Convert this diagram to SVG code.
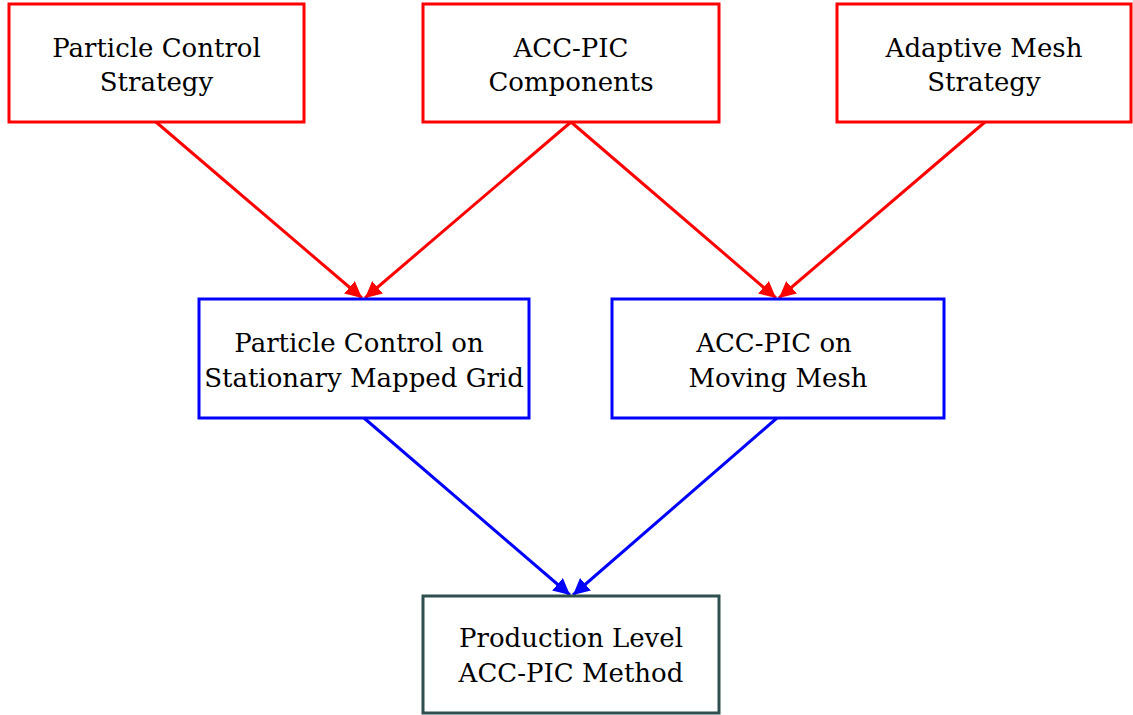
<svg xmlns="http://www.w3.org/2000/svg" width="1133" height="715" viewBox="0 0 1133 715">
<style>
rect{fill:#fff;stroke-width:3}
.r{stroke:#ff0000}.b{stroke:#0000ff}.g{stroke:#2f4f4f}
text{font-family:"DejaVu Serif","Liberation Serif",serif;font-size:26px;text-anchor:middle;fill:#000}
.c line{stroke-width:3}
</style>
<defs>
<marker id="ar" viewBox="0 0 10 10" refX="10" refY="5" markerWidth="5.5" markerHeight="5.5" orient="auto" markerUnits="strokeWidth"><path d="M0,0 L10,5 L0,10 z" fill="#ff0000"/></marker>
<marker id="ab" viewBox="0 0 10 10" refX="10" refY="5" markerWidth="5.5" markerHeight="5.5" orient="auto" markerUnits="strokeWidth"><path d="M0,0 L10,5 L0,10 z" fill="#0000ff"/></marker>
</defs>
<g id="connectors" class="c">
<line x1="156" y1="122" x2="362" y2="298" stroke="#ff0000" marker-end="url(#ar)"/>
<line x1="571" y1="122" x2="365" y2="298" stroke="#ff0000" marker-end="url(#ar)"/>
<line x1="571" y1="122" x2="776" y2="298" stroke="#ff0000" marker-end="url(#ar)"/>
<line x1="985" y1="122" x2="779" y2="298" stroke="#ff0000" marker-end="url(#ar)"/>
<line x1="364" y1="418" x2="570" y2="595" stroke="#0000ff" marker-end="url(#ab)"/>
<line x1="777" y1="418" x2="573" y2="595" stroke="#0000ff" marker-end="url(#ab)"/>
</g>
<g id="n1"><rect class="r" x="9" y="4" width="295" height="118"/><text x="156.5" y="57">Particle Control</text><text x="156.5" y="91">Strategy</text></g>
<g id="n2"><rect class="r" x="423" y="4" width="296" height="118"/><text x="571" y="57">ACC-PIC</text><text x="571" y="91">Components</text></g>
<g id="n3"><rect class="r" x="837" y="4" width="294" height="118"/><text x="984" y="57">Adaptive Mesh</text><text x="984" y="91">Strategy</text></g>
<g id="n4"><rect class="b" x="199" y="299" width="330" height="119"/><text x="359" y="352">Particle Control on</text><text x="364" y="387">Stationary Mapped Grid</text></g>
<g id="n5"><rect class="b" x="612" y="299" width="332" height="119"/><text x="774" y="352">ACC-PIC on</text><text x="778" y="387">Moving Mesh</text></g>
<g id="n6"><rect class="g" x="423" y="596" width="296" height="117"/><text x="571" y="647">Production Level</text><text x="571" y="682">ACC-PIC Method</text></g>
</svg>
